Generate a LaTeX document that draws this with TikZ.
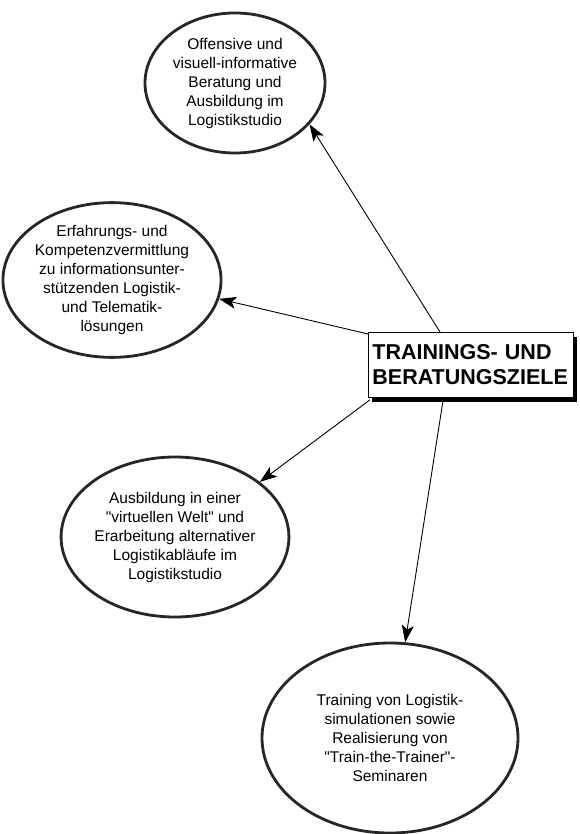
\documentclass[tikz,border=0pt]{standalone}
\usepackage{fontspec}
\setmainfont{Liberation Sans}
\usetikzlibrary{shapes.geometric,arrows.meta,shadows}
\begin{document}
\begin{tikzpicture}[x=1pt,y=-1pt,
  goal/.style={ellipse, draw=black!85, line width=2.8pt, inner sep=0pt, align=center,
    font=\fontsize{15.5}{19}\selectfont},
  centrebox/.style={rectangle, draw, line width=0.8pt, fill=white, anchor=north west,
    minimum height=65pt, inner xsep=4pt, text width=197pt, align=left,
    font=\bfseries\fontsize{21.5}{25}\selectfont,
    drop shadow={shadow xshift=4pt, shadow yshift=-5pt, fill=black, opacity=1}},
  link/.style={-{Stealth[length=17pt,width=12pt,inset=4pt]}, line width=0.9pt}]
\useasboundingbox[fill=white] (0,0) rectangle (580,834);

\node[goal, minimum width=180pt, minimum height=140pt] (e1) at (235,83)
  {Offensive und\\visuell-informative\\Beratung und\\Ausbildung im\\Logistikstudio};
\node[goal, minimum width=214pt, minimum height=154pt] (e2) at (112,280)
  {Erfahrungs- und\\Kompetenzvermittlung\\zu informationsunter-\\stützenden Logistik-\\und Telematik-\\lösungen};
\node[goal, minimum width=226pt, minimum height=160pt] (e3) at (175,537)
  {Ausbildung in einer\\\textquotedbl virtuellen Welt\textquotedbl{} und\\Erarbeitung alternativer\\Logistikabläufe im\\Logistikstudio};
\node[goal, minimum width=256pt, minimum height=190pt] (e4) at (390,738)
  {Training von Logistik-\\simulationen sowie\\Realisierung von\\\textquotedbl Train-the-Trainer\textquotedbl -\\Seminaren};

\node[centrebox] (box) at (368,332) {TRAININGS- UND\\BERATUNGSZIELE};

\coordinate (s1) at ([xshift=72pt]box.north west);
\coordinate (s2) at ([yshift=-2pt]box.north west);
\coordinate (s3) at ([xshift=2pt,yshift=-2pt]box.south west);
\coordinate (s4) at ([xshift=75pt,yshift=-3pt]box.south west);

\draw[link] (s1) -- (e1.-29);
\draw[link] (s2) -- (e2.-10);
\draw[link] (s3) -- (e3.33);
\draw[link] (s4) -- (e4.81);
\end{tikzpicture}
\end{document}
